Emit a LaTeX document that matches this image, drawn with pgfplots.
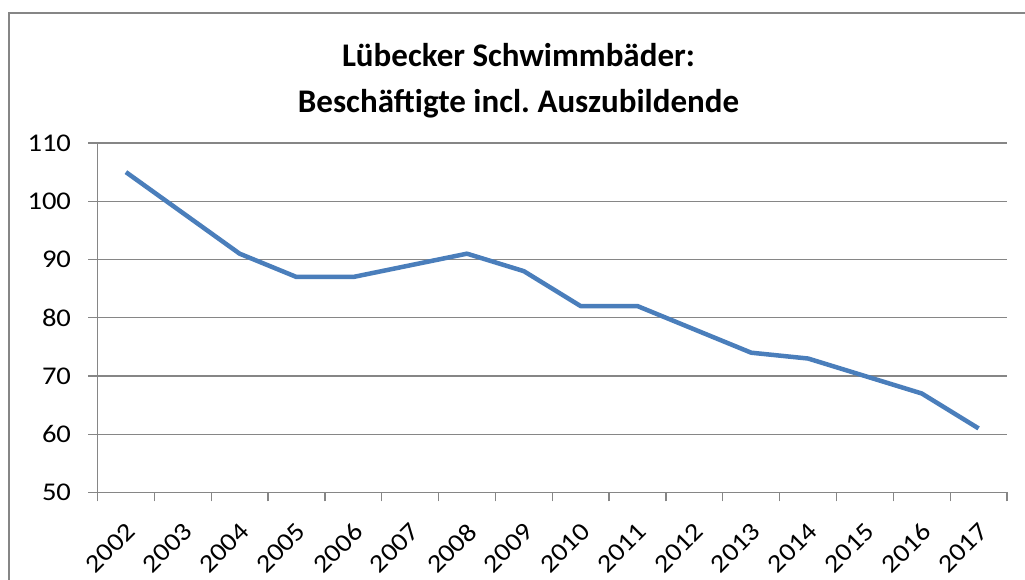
\documentclass[border=0pt]{standalone}
\usepackage{pgfplots}
\pgfplotsset{compat=1.18}
\usepackage{fontspec}
\setmainfont{Carlito}
\newfontfamily\tickfont[FakeStretch=1.12]{Carlito}
\definecolor{axisgray}{HTML}{868686}
\definecolor{lineblue}{HTML}{4A7EBB}
\begin{document}
\frenchspacing
\begin{tikzpicture}
\path[use as bounding box] (-97.5pt,-87.5pt) rectangle (927.5pt,492.5pt);
\draw[axisgray, line width=2pt] (-88.2pt,-120pt) -- (-88.2pt,479.2pt) -- (960pt,479.2pt);
\node[anchor=base, font=\bfseries\fontsize{33}{40}\selectfont] at (421pt,425.5pt) {Lübecker Schwimmbäder:};
\node[anchor=base, font=\bfseries\fontsize{33}{40}\selectfont] at (421pt,379.5pt) {Beschäftigte incl. Auszubildende};
\begin{axis}[
  at={(0,0)}, anchor=south west,
  scale only axis,
  width=909.5pt, height=349.5pt,
  xmin=0, xmax=16, ymin=50, ymax=110,
  axis x line=bottom, axis y line=left,
  axis line style={-, axisgray, line width=1.3pt},
  ytick={50,60,...,110},
  ymajorgrids,
  grid style={axisgray, line width=1.3pt},
  tick style={axisgray, line width=1.3pt},
  tick align=outside,
  major tick length=9pt,
  xtick={0,1,...,16},
  xticklabels={},
  extra x ticks={0.5,1.5,...,15.5},
  extra x tick labels={2002,2003,2004,2005,2006,2007,2008,2009,2010,2011,2012,2013,2014,2015,2016,2017},
  extra x tick style={major tick length=0pt, grid=none,
     xticklabel style={xshift=-1pt, yshift=-24pt, rotate=45, anchor=north east}},
  /pgf/number format/assume math mode=true,
  ticklabel style={font=\tickfont\fontsize{25.5}{28}\selectfont, text=black},
  yticklabel style={xshift=-14pt},
  clip=false,
]
\addplot[lineblue, line width=4.5pt, line join=round] coordinates {
(0.5,105) (1.5,98) (2.5,91) (3.5,87) (4.5,87) (5.5,89) (6.5,91) (7.5,88)
(8.5,82) (9.5,82) (10.5,78) (11.5,74) (12.5,73) (13.5,70) (14.5,67) (15.5,61)
};
\end{axis}
\end{tikzpicture}
\end{document}
